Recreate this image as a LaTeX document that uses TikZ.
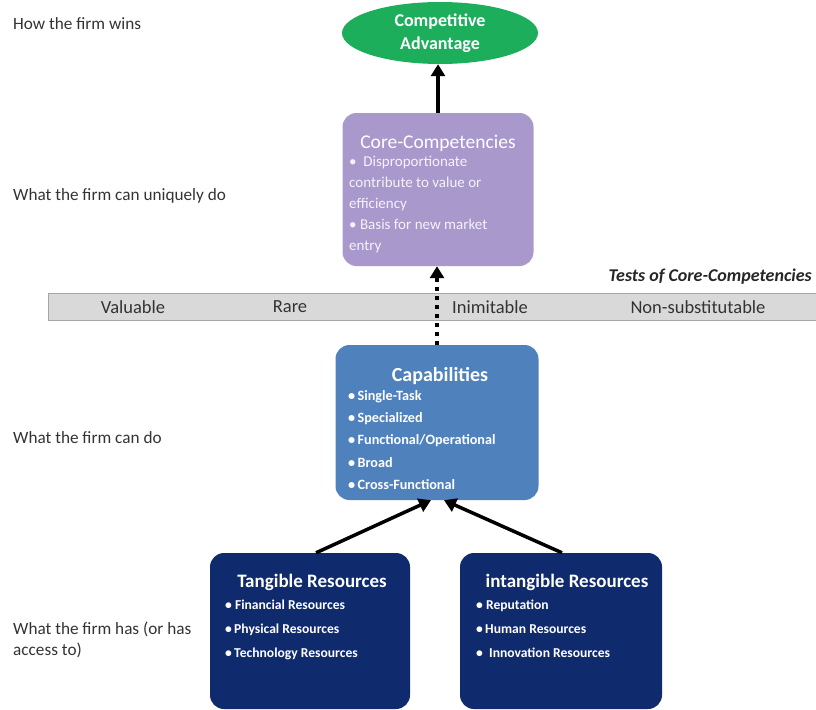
\documentclass[tikz,border=0pt]{standalone}
\usepackage{fontspec}
\setmainfont{Carlito}
\usetikzlibrary{arrows.meta,positioning,shapes.geometric}
\definecolor{leafgreen}{HTML}{1DAE5B}
\definecolor{lavender}{HTML}{A898CC}
\definecolor{steel}{HTML}{4F81BD}
\definecolor{navy}{HTML}{102A6E}
\definecolor{bandgray}{HTML}{D9D9D9}
\definecolor{bandline}{HTML}{A6A6A6}
\definecolor{labelgray}{HTML}{333333}

\begin{document}
\begin{tikzpicture}[x=1pt,y=-1pt,
    box/.style={rounded corners=14pt,draw=none,inner sep=0pt},
    boxtitle/.style={text=white,inner sep=0pt,font=\fontsize{19}{22}\selectfont\bfseries},
    bullets/.style={text=white,align=left,anchor=north west,inner sep=0pt},
    levellabel/.style={anchor=west,text=labelgray,align=left,inner sep=0pt,
      font=\fontsize{17.2}{21}\selectfont},
    testlabel/.style={text=labelgray,inner sep=0pt,font=\fontsize{18.5}{20}\selectfont},
    uparrow/.style={line width=3.5pt,-{Triangle[length=12pt,width=14pt]}}]
  \useasboundingbox (0,0) rectangle (816,709);

  % level labels on the left
  \node[levellabel] (wins) at (13,24) {How the firm wins};
  \node[levellabel] (unique) at (13,196) {What the firm can uniquely do};
  \node[levellabel] (cando) at (13,438) {What the firm can do};
  \node[levellabel] (has) at (13,640) {What the firm has (or has\\access to)};

  % top
  \node[ellipse,fill=leafgreen,text=white,minimum width=196pt,minimum height=62pt,
    inner sep=0pt,align=center,font=\fontsize{18}{23}\selectfont\bfseries]
    (adv) at (440,33) {Competitive\\Advantage};

  \node[box,fill=lavender,minimum width=191pt,minimum height=153pt] (core) at (438,189.5) {};
  \node[boxtitle,font=\fontsize{19.5}{22}\selectfont] (coretitle) at (438,143) {Core-Competencies};
  \node[bullets,text=white!88!lavender,font=\fontsize{15}{21}\selectfont] (corelist)
    at (349,156) {\textbullet\ \ Disproportionate\\contribute to value or\\efficiency\\
    \textbullet\ Basis for new market\\entry};

  % tests band
  \node[draw=bandline,fill=bandgray,line width=1.2pt,minimum width=768pt,
    minimum height=27pt,anchor=north west,inner sep=0pt] (band) at (48,293) {};
  \node[testlabel] (valuable) at (133,307) {Valuable};
  \node[testlabel] (rare) at (290,307) {Rare};
  \node[testlabel] (inimitable) at (490,307) {Inimitable};
  \node[testlabel] (nonsub) at (698,307) {Non-substitutable};
  \node[anchor=east,inner sep=0pt,text=black!85,font=\fontsize{18}{20}\selectfont\bfseries\itshape]
    (tests) at (812,277) {Tests of Core-Competencies};

  % capabilities
  \node[box,fill=steel,minimum width=203pt,minimum height=155pt] (cap) at (437,422.5) {};
  \node[boxtitle,font=\fontsize{20}{22}\selectfont\bfseries] (captitle) at (440,376) {Capabilities};
  \node[bullets,font=\fontsize{14.2}{22.3}\selectfont\bfseries] (caplist) at (348,390)
    {\textbullet\,Single-Task\\\textbullet\,Specialized\\\textbullet\,Functional/Operational\\
    \textbullet\,Broad\\\textbullet\,Cross-Functional};

  % resources
  \node[box,fill=navy,minimum width=200pt,minimum height=156pt] (tang) at (310,631) {};
  \node[boxtitle] (tangtitle) at (312,582) {Tangible Resources};
  \node[bullets,font=\fontsize{13.6}{24}\selectfont\bfseries] (tanglist) at (225,600)
    {\textbullet\ Financial Resources\\\textbullet\,Physical Resources\\\textbullet\,Technology Resources};

  \node[box,fill=navy,minimum width=202pt,minimum height=156pt] (intang) at (561,631) {};
  \node[boxtitle] (intangtitle) at (567,582) {intangible Resources};
  \node[bullets,font=\fontsize{13.6}{24}\selectfont\bfseries] (intanglist) at (476,600)
    {\textbullet\ Reputation\\\textbullet\,Human Resources\\\textbullet\ \ Innovation Resources};

  % arrows
  \draw[uparrow] (core.north) -- (core.north |- adv.south);
  \draw[uparrow,dash pattern=on 4pt off 5pt] (cap.north) -- (cap.north |- core.south);
  \draw[uparrow] ([xshift=6pt]tang.north) -- ([xshift=-6pt]cap.south);
  \draw[uparrow] ([xshift=1pt]intang.north) -- ([xshift=7pt]cap.south);
\end{tikzpicture}
\end{document}
